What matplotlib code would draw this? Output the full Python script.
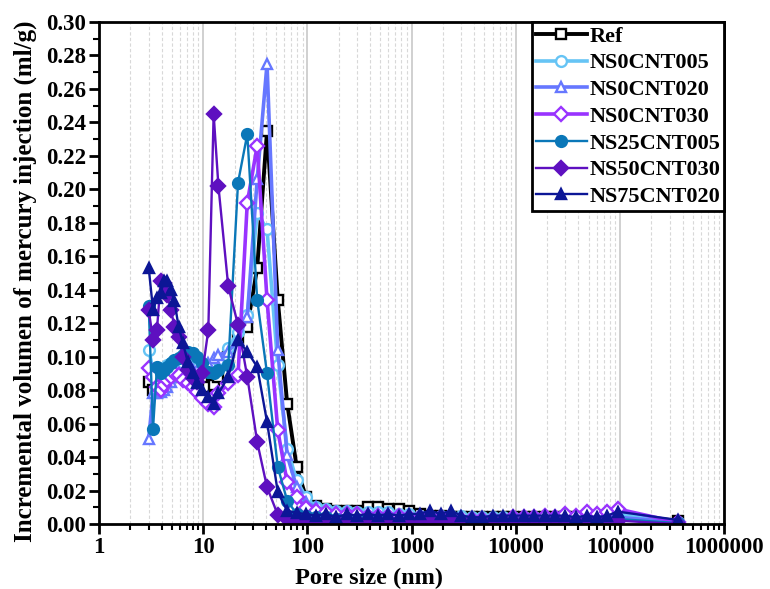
import numpy as np
import matplotlib
matplotlib.use('Agg')
import matplotlib.pyplot as plt
from matplotlib.ticker import FixedLocator, LogLocator, FuncFormatter, MultipleLocator

plt.rcParams['font.family'] = ['Liberation Serif', 'DejaVu Serif']
plt.rcParams['font.weight'] = 'bold'

# pore size grid (nm): dense head region + tail
pore_head = [3.0, 3.3, 3.6, 3.9, 4.2, 4.5, 4.9, 5.3, 5.8, 6.4, 7.1, 7.9, 8.8, 9.8,
             11.2, 12.6, 14.0, 17.4, 21.6, 26.5, 33, 41, 52, 64, 79, 97]
pore_tail = [120, 150, 190, 240, 300, 380, 480, 600, 760, 950, 1200, 1500, 1900, 2400,
             3000, 3800, 4800, 6000, 7600, 9500, 12000, 15000, 19000, 24000, 30000,
             38000, 48000, 60000, 76000, 95000, 360000]

labels = ['Ref', 'NS0CNT005', 'NS0CNT020', 'NS0CNT030', 'NS25CNT005', 'NS50CNT030', 'NS75CNT020']

ref_head = [0.085, 0.080, 0.082, 0.084, 0.086, 0.087, 0.088, 0.089, 0.090, 0.089, 0.088, 0.087, 0.086,
            0.085, 0.082, 0.083, 0.088, 0.100, 0.110, 0.118, 0.153, 0.235, 0.134, 0.072, 0.034, 0.016]
ref_tail = [0.011, 0.009, 0.008, 0.008, 0.008, 0.010, 0.010, 0.009, 0.009, 0.008, 0.006, 0.005, 0.005,
            0.004, 0.004, 0.004, 0.004, 0.004, 0.004, 0.004, 0.004, 0.004, 0.004, 0.004, 0.004, 0.004,
            0.004, 0.004, 0.004, 0.005, 0.002]

cnt005_head = [0.104, 0.092, 0.090, 0.091, 0.093, 0.095, 0.096, 0.097, 0.097, 0.096, 0.095, 0.094, 0.093,
               0.092, 0.092, 0.094, 0.098, 0.105, 0.115, 0.125, 0.186, 0.176, 0.095, 0.045, 0.026, 0.016]
cnt005_tail = [0.010, 0.009, 0.008, 0.008, 0.007, 0.007, 0.007, 0.007, 0.006, 0.006, 0.005, 0.005, 0.005,
               0.005, 0.005, 0.004, 0.004, 0.004, 0.004, 0.004, 0.004, 0.004, 0.004, 0.004, 0.004, 0.004,
               0.004, 0.004, 0.005, 0.006, 0.001]

cnt020_head = [0.051, 0.078, 0.078, 0.079, 0.080, 0.082, 0.085, 0.088, 0.090, 0.091, 0.092, 0.092, 0.092,
               0.093, 0.096, 0.099, 0.101, 0.103, 0.110, 0.124, 0.206, 0.275, 0.104, 0.041, 0.022, 0.013]
cnt020_tail = [0.010, 0.008, 0.007, 0.007, 0.006, 0.006, 0.006, 0.006, 0.005, 0.005, 0.005, 0.004, 0.004,
               0.004, 0.004, 0.004, 0.004, 0.004, 0.003, 0.003, 0.003, 0.003, 0.003, 0.003, 0.003, 0.003,
               0.003, 0.004, 0.004, 0.004, 0.001]

cnt030_head = [0.093, 0.088, 0.082, 0.080, 0.083, 0.086, 0.088, 0.090, 0.089, 0.086, 0.084, 0.082, 0.079,
               0.075, 0.072, 0.070, 0.078, 0.084, 0.089, 0.192, 0.226, 0.134, 0.056, 0.025, 0.016, 0.0095]
cnt030_tail = [0.008, 0.007, 0.006, 0.006, 0.006, 0.005, 0.005, 0.005, 0.005, 0.004, 0.004, 0.004, 0.004,
               0.003, 0.003, 0.003, 0.003, 0.003, 0.003, 0.004, 0.004, 0.004, 0.005, 0.004, 0.006, 0.005,
               0.007, 0.006, 0.007, 0.009, 0.001]

ns25_head = [0.130, 0.057, 0.094, 0.090, 0.092, 0.094, 0.096, 0.098, 0.099, 0.101, 0.103, 0.102, 0.100,
             0.096, 0.091, 0.090, 0.092, 0.095, 0.204, 0.233, 0.134, 0.090, 0.034, 0.014, 0.006, 0.005]
ns25_tail = [0.004, 0.004, 0.003, 0.003, 0.003, 0.003, 0.003, 0.002, 0.002, 0.002, 0.002, 0.002, 0.002,
             0.002, 0.002, 0.002, 0.002, 0.002, 0.002, 0.002, 0.002, 0.002, 0.002, 0.002, 0.002, 0.002,
             0.002, 0.002, 0.002, 0.003, 0.0005]

ns50_head = [0.128, 0.110, 0.116, 0.145, 0.144, 0.137, 0.128, 0.118, 0.112, 0.100, 0.092, 0.087, 0.085,
             0.090, 0.116, 0.245, 0.202, 0.142, 0.119, 0.088, 0.049, 0.022, 0.0055, 0.003, 0.002, 0.002]
ns50_tail = [0.0015, 0.0015, 0.0015, 0.0015, 0.0015, 0.0015, 0.0015, 0.0015, 0.0015, 0.0015, 0.0015,
             0.0015, 0.0015, 0.0015, 0.0015, 0.0015, 0.0015, 0.0015, 0.0015, 0.0015, 0.0015, 0.0015,
             0.0015, 0.0015, 0.0015, 0.0015, 0.0015, 0.0015, 0.0015, 0.002, 0.0]

ns75_head = [0.153, 0.128, 0.135, 0.138, 0.145, 0.145, 0.140, 0.133, 0.118, 0.108, 0.097, 0.090, 0.084,
             0.080, 0.076, 0.072, 0.078, 0.088, 0.110, 0.103, 0.094, 0.061, 0.019, 0.008, 0.0065, 0.006]
ns75_tail = [0.005, 0.006, 0.004, 0.006, 0.005, 0.006, 0.005, 0.006, 0.005, 0.006, 0.006, 0.008, 0.006,
             0.008, 0.005, 0.004, 0.004, 0.005, 0.005, 0.005, 0.005, 0.005, 0.005, 0.005, 0.005, 0.004,
             0.005, 0.004, 0.005, 0.0074, 0.0024]

heads = [ref_head, cnt005_head, cnt020_head, cnt030_head, ns25_head, ns50_head, ns75_head]
tails = [ref_tail, cnt005_tail, cnt020_tail, cnt030_tail, ns25_tail, ns50_tail, ns75_tail]

colors = ['black', '#66C4F5', '#6677FF', '#9933FF', '#0A77B8', '#5E10C0', '#0C1696']
markers = ['s', 'o', '^', 'D', 'o', 'D', '^']
filled = [False, False, False, False, True, True, True]
widths = [2.8, 2.6, 2.6, 2.6, 1.7, 1.7, 1.7]

fig = plt.figure(figsize=(7.7, 5.89), dpi=100)
ax = fig.add_axes([0.1286, 0.1104, 0.8117, 0.8522])

pore = pore_head + pore_tail
for i in range(len(labels)):
    vals = heads[i] + tails[i]
    ms = 7.2 if markers[i] == 'D' else 7.8
    ax.plot(pore, vals, color=colors[i], lw=widths[i], marker=markers[i], ms=ms,
            mfc=colors[i] if filled[i] else 'white', mec=colors[i], mew=1.7,
            label=labels[i])

ax.set_xscale('log')
ax.set_xlim(1, 1e6)
ax.set_ylim(0, 0.30)
ax.yaxis.set_major_locator(MultipleLocator(0.02))
ax.yaxis.set_minor_locator(MultipleLocator(0.01))
ax.yaxis.set_major_formatter(FuncFormatter(lambda v, p: f'{v:.2f}'))
ax.xaxis.set_major_locator(FixedLocator([1, 10, 100, 1000, 10000, 100000, 1000000]))
ax.xaxis.set_minor_locator(LogLocator(base=10, subs=np.arange(2, 10), numticks=20))
ax.xaxis.set_major_formatter(FuncFormatter(lambda v, p: f'{int(round(v))}'))

ax.grid(True, which='major', axis='x', color='#C8C8C8', lw=1.2, ls='-')
ax.grid(True, which='minor', axis='x', color='#D8D8D8', lw=0.8, ls=(0, (3, 2)))
ax.set_axisbelow(True)

for s in ax.spines.values():
    s.set_linewidth(2.0)
ax.tick_params(which='major', direction='out', length=7.5, width=2.0, labelsize=16.5,
               top=False, right=False, pad=2)
ax.tick_params(which='minor', direction='out', length=4, width=1.5, top=False, right=False)
for t in ax.get_xticklabels() + ax.get_yticklabels():
    t.set_fontweight('bold')

ax.set_xlabel('Pore size (nm)', fontsize=17.5, fontweight='bold')
ax.set_ylabel('Incremental volumen of mercury injection (ml/g)', fontsize=18, fontweight='bold')
ax.xaxis.set_label_coords(0.432, -0.088)
ax.yaxis.set_label_coords(-0.1, 0.484)

leg = ax.legend(loc='upper right', borderaxespad=0, fancybox=False, edgecolor='black',
                fontsize=16, handlelength=2.3, handletextpad=0.1, labelspacing=0.28,
                borderpad=0.18, framealpha=1)
leg.get_frame().set_linewidth(2.0)
for t in leg.get_texts():
    t.set_fontweight('bold')

fig.savefig('out.png', dpi=100)
